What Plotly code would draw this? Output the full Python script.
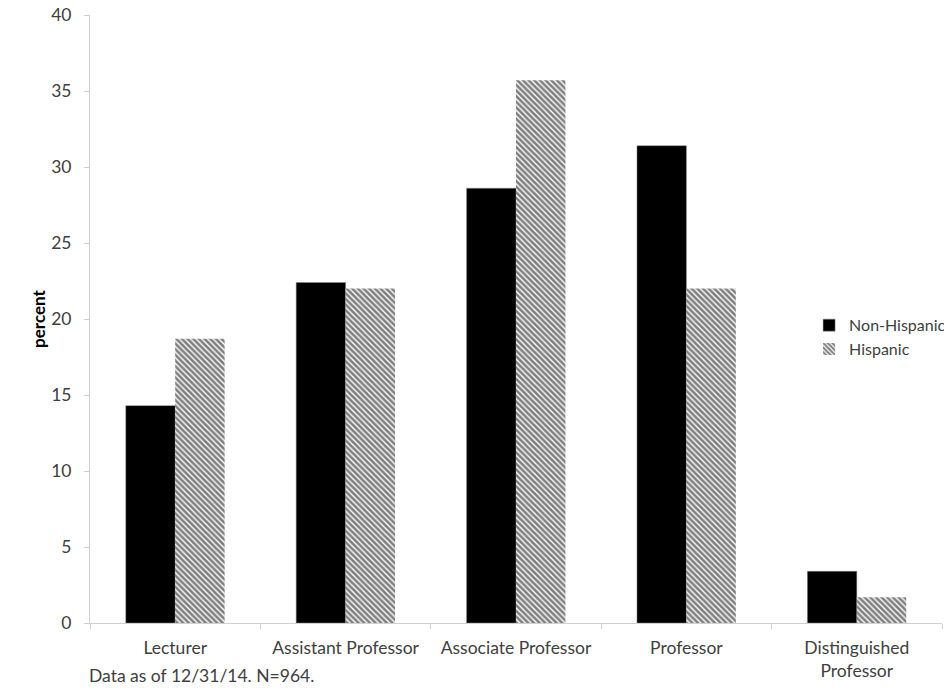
import plotly.graph_objects as go

categories = ["Lecturer", "Assistant Professor", "Associate Professor", "Professor", "Distinguished Professor"]
tick_labels = ["Lecturer", "Assistant Professor", "Associate Professor", "Professor", "Distinguished<br>Professor"]
non_hispanic = [14.3, 22.4, 28.6, 31.4, 3.4]
hispanic = [18.7, 22.0, 35.7, 22.0, 1.7]

FONT = "Lato"
FS = 17.5
AXIS_COLOR = "#d0d0d0"

fig = go.Figure()
fig.add_trace(go.Bar(
    x=categories, y=non_hispanic, name="Non-Hispanic",
    marker=dict(color="black", line=dict(color="#888888", width=0.5)),
))
fig.add_trace(go.Bar(
    x=categories, y=hispanic, name="Hispanic",
    marker=dict(color="white", line=dict(width=0),
                pattern=dict(shape="\\", fgcolor="black", bgcolor="white", size=4, solidity=0.65)),
))

# page body has an 8px default margin, so the figure is offset by (8, 8)
fig.update_layout(
    width=944, height=684,
    margin=dict(l=82, r=10, t=7, b=69, autoexpand=False),
    plot_bgcolor="white", paper_bgcolor="white",
    barmode="group", bargap=0.42, bargroupgap=0,
    font=dict(family=FONT, size=FS, color="#404040"),
    showlegend=True,
    legend=dict(x=0.844, y=0.47, xanchor="left", yanchor="middle",
                font=dict(family=FONT, size=16, color="#404040"),
                bgcolor="rgba(0,0,0,0)", tracegroupgap=2),
    xaxis=dict(
        tickvals=categories, ticktext=tick_labels, automargin=False,
        showline=True, linecolor=AXIS_COLOR, linewidth=1,
        ticks="outside", ticklen=5, tickcolor=AXIS_COLOR, tickson="boundaries",
        ticklabelstandoff=9,
        showgrid=False, zeroline=False,
        tickfont=dict(family=FONT, size=FS, color="#404040"),
    ),
    yaxis=dict(
        range=[0, 40], dtick=5, automargin=False,
        showline=True, linecolor=AXIS_COLOR, linewidth=1,
        ticks="outside", ticklen=5, tickcolor=AXIS_COLOR,
        ticklabelstandoff=9, ticklabeloverflow="allow",
        showgrid=False, zeroline=False,
        tickfont=dict(family=FONT, size=FS, color="#404040"),
        title=dict(text="<b>percent</b>", font=dict(family=FONT, size=17, color="black"), standoff=1),
    ),
)

fig.add_annotation(
    text="Data as of 12/31/14. N=964.",
    xref="paper", yref="paper", x=-0.003, y=-0.087,
    xanchor="left", yanchor="middle", showarrow=False,
    font=dict(family=FONT, size=FS, color="#404040"),
)

fig.write_html("out.html")
